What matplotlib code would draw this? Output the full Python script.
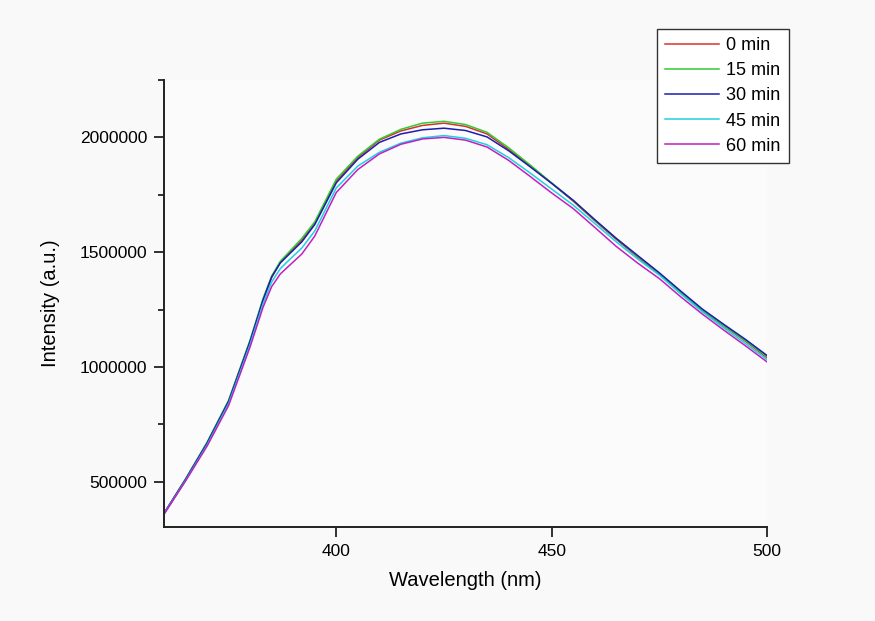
import matplotlib
matplotlib.use("Agg")
import matplotlib.pyplot as plt
from matplotlib.ticker import MultipleLocator

plt.rcParams["font.family"] = ["Liberation Sans", "DejaVu Sans"]

# wavelength grid (nm)
wavelength = [360, 365, 370, 375, 380, 383, 385, 387, 389, 392, 395, 400, 405,
              410, 415, 420, 425, 430, 435, 440, 445, 450, 455, 460, 465, 470,
              475, 480, 485, 490, 495, 500]

min0 = [362000, 510000, 668000, 850000, 1110000, 1290000, 1390000, 1455000,
        1495000, 1552000, 1625000, 1810000, 1912000, 1988000, 2028000, 2052000,
        2062000, 2048000, 2015000, 1948000, 1875000, 1800000, 1722000, 1637000,
        1556000, 1478000, 1405000, 1322000, 1245000, 1178000, 1112000, 1040000]
min15 = [362000, 512000, 672000, 855000, 1118000, 1298000, 1396000, 1460000,
         1500000, 1560000, 1632000, 1818000, 1918000, 1992000, 2035000, 2062000,
         2070000, 2056000, 2022000, 1955000, 1880000, 1802000, 1725000, 1640000,
         1560000, 1482000, 1408000, 1325000, 1248000, 1180000, 1115000, 1045000]
min30 = [362000, 510000, 668000, 850000, 1112000, 1292000, 1392000, 1453000,
         1490000, 1545000, 1620000, 1802000, 1905000, 1978000, 2015000, 2033000,
         2040000, 2030000, 2002000, 1942000, 1872000, 1800000, 1726000, 1642000,
         1560000, 1485000, 1410000, 1330000, 1252000, 1185000, 1120000, 1050000]
min45 = [360000, 505000, 660000, 840000, 1098000, 1275000, 1370000, 1428000,
         1465000, 1518000, 1592000, 1780000, 1875000, 1935000, 1975000, 1998000,
         2008000, 1996000, 1968000, 1912000, 1845000, 1775000, 1705000, 1625000,
         1545000, 1470000, 1400000, 1318000, 1240000, 1170000, 1102000, 1032000]
min60 = [358000, 503000, 655000, 832000, 1088000, 1260000, 1350000, 1405000,
         1440000, 1492000, 1570000, 1760000, 1860000, 1928000, 1970000, 1993000,
         2000000, 1988000, 1958000, 1900000, 1830000, 1758000, 1690000, 1608000,
         1525000, 1452000, 1385000, 1305000, 1230000, 1160000, 1092000, 1022000]

series = [min0, min15, min30, min45, min60]
labels = ["0 min", "15 min", "30 min", "45 min", "60 min"]
colors = ["#d83030", "#30cc30", "#1c1cb0", "#20d0e0", "#c020c0"]

fig = plt.figure(figsize=(8.75, 6.21), dpi=100, facecolor="#f9f9f9")
ax = fig.add_axes([0.1874, 0.1514, 0.6892, 0.7198])
ax.set_facecolor("#fbfbfb")

for vals, lab, col in zip(series, labels, colors):
    ax.plot(wavelength, vals, color=col, lw=1.1, label=lab)

ax.set_xlim(360, 500)
ax.set_ylim(303000, 2250000)
ax.xaxis.set_major_locator(MultipleLocator(50))
ax.yaxis.set_major_locator(MultipleLocator(500000))
ax.yaxis.set_minor_locator(MultipleLocator(250000))
ax.ticklabel_format(axis="y", style="plain", useOffset=False)

for side in ["top", "right"]:
    ax.spines[side].set_visible(False)
for side in ["left", "bottom"]:
    ax.spines[side].set_linewidth(1.4)
    ax.spines[side].set_color("#222222")

ax.tick_params(which="major", direction="out", length=7, width=1.3,
               labelsize=12.5, colors="#222222", labelcolor="black", pad=5)
ax.tick_params(which="minor", direction="out", length=4, width=1.3,
               colors="#222222")

ax.set_xlabel("Wavelength (nm)", fontsize=14.5, labelpad=9)
ax.set_ylabel("Intensity (a.u.)", fontsize=14.5, labelpad=14)

leg = fig.legend(loc="upper right", bbox_to_anchor=(0.9017, 0.9533),
                 fontsize=13, frameon=True, fancybox=False, framealpha=1,
                 edgecolor="#333333", handlelength=3.0, labelspacing=0.45,
                 handletextpad=0.4, borderpad=0.45, borderaxespad=0)
leg.get_frame().set_linewidth(1.0)

fig.savefig("out.png", dpi=100, facecolor=fig.get_facecolor())
